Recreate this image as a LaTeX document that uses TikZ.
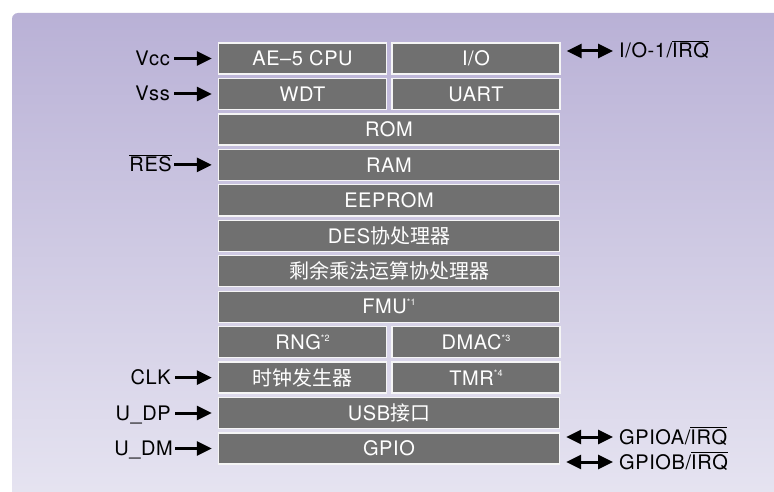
\documentclass[tikz,border=0pt]{standalone}
\usepackage{fontspec}
\setmainfont{TeX Gyre Heros}[LetterSpace=3]
\newfontfamily\cjk{Noto Sans CJK SC}
\usetikzlibrary{arrows.meta}
\definecolor{bgtop}{HTML}{B9B1D6}
\definecolor{bgbot}{HTML}{E6E4F1}
\definecolor{blkgray}{HTML}{707070}
\newcommand{\ovl}[1]{$\overline{\mbox{#1}}$}
\newcommand{\nt}[1]{\raisebox{0.8ex}{\fontsize{9}{9}\selectfont *#1}}

\begin{document}
\begin{tikzpicture}[x=1pt,y=-1pt,
  blk/.style={fill=blkgray,draw=white!92!gray,line width=1.4pt,text=white,minimum height=31pt,inner sep=0pt,font=\fontsize{20}{22}\selectfont},
  half/.style={blk,minimum width=168pt},
  full/.style={blk,minimum width=341pt},
  pin/.style={inner sep=1pt,text height=17pt,text depth=3pt,font=\fontsize{20}{22}\selectfont},
  pinarr/.style={line width=3pt,-{Triangle[length=15pt,width=14pt]},shorten <=3pt,shorten >=6pt},
  dblarr/.style={line width=3pt,{Triangle[length=15pt,width=14pt]}-{Triangle[length=15pt,width=14pt]},shorten <=6pt,shorten >=5pt}]
  \useasboundingbox (0,0) rectangle (774,492);
  \fill[white] (0,0) rectangle (774,492);
  % background panel
  \shade[top color=bgtop,bottom color=bgbot,rounded corners=6pt] (12,500) -- (12,13) -- (790,13) -- (790,500) -- cycle;

  % blocks
  \node[half] (cpu) at (302.5,58.5) {AE--5 CPU};
  \node[half] (io) at (476,58.5) {I/O};
  \node[half] (wdt) at (302.5,94) {WDT};
  \node[half] (uart) at (476,94) {UART};
  \node[full] (rom) at (389,129.4) {ROM};
  \node[full] (ram) at (389,164.9) {RAM};
  \node[full] (eep) at (389,200.3) {EEPROM};
  \node[full] (des) at (389,235.8) {DES{\cjk 协处理器}};
  \node[full] (mod) at (389,271.2) {\cjk 剩余乘法运算协处理器};
  \node[full] (fmu) at (389,306.7) {FMU\nt{1}};
  \node[half] (rng) at (302.5,342.1) {RNG\nt{2}};
  \node[half] (dmac) at (476,342.1) {DMAC\nt{3}};
  \node[half] (clkgen) at (302.5,377.6) {\cjk 时钟发生器};
  \node[half] (tmr) at (476,377.6) {TMR\nt{4}};
  \node[full] (usb) at (389,413) {USB{\cjk 接口}};
  \node[full] (gpio) at (389,448.5) {GPIO};

  % pins on the left
  \node[pin,anchor=east] (vcc) at (171,58.5) {Vcc};
  \node[pin,anchor=east] (vss) at (171,94) {Vss};
  \node[pin,anchor=east] (res) at (173,164.9) {\ovl{RES}};
  \node[pin,anchor=east] (clk) at (172,377.6) {CLK};
  \node[pin,anchor=east] (udp) at (172,413) {U\_DP};
  \node[pin,anchor=east] (udm) at (174,448.5) {U\_DM};
  \draw[pinarr] (vcc.east) -- (vcc.east -| cpu.west);
  \draw[pinarr] (vss.east) -- (vss.east -| wdt.west);
  \draw[pinarr,shorten <=1pt] (res.east) -- (res.east -| ram.west);
  \draw[pinarr] (clk.east) -- (clk.east -| clkgen.west);
  \draw[pinarr] (udp.east) -- (udp.east -| usb.west);
  \draw[pinarr,shorten <=1pt] (udm.east) -- (udm.east -| gpio.west);

  % pins on the right
  \node[pin,anchor=west] (iopin) at (618,51) {I/O-1/\ovl{IRQ}};
  \node[pin,anchor=west] (gpa) at (618,437) {GPIOA/\ovl{IRQ}};
  \node[pin,anchor=west] (gpb) at (618,462) {GPIOB/\ovl{IRQ}};
  \draw[dblarr] (iopin.west -| io.east) -- (iopin.west);
  \draw[dblarr] (gpa.west -| gpio.east) -- (gpa.west);
  \draw[dblarr] (gpb.west -| gpio.east) -- (gpb.west);
\end{tikzpicture}
\end{document}
